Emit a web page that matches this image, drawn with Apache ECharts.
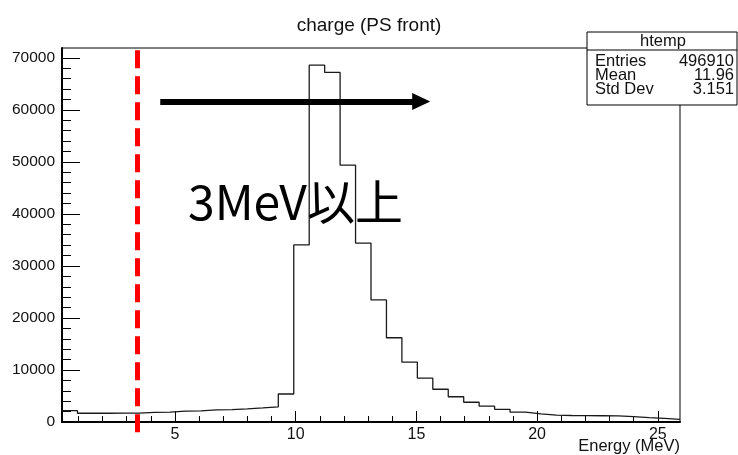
<!DOCTYPE html>
<html>
<head>
<meta charset="utf-8">
<script src="https://cdn.jsdelivr.net/npm/echarts@6/dist/echarts.min.js"></script>
<style>html,body{margin:0;padding:0;background:#fff}#c{width:738px;height:455px}</style>
</head>
<body>
<div id="c"></div>
<script>
// ---- data ----
const xMin = 0.32;
const xMax = 25.92;
const binCount = 40;
const counts = [2200, 1680, 1680, 1690, 1700, 1850, 1880, 2100, 2150, 2330,
                2380, 2520, 2700, 2900, 5380, 34040, 68600, 67200, 49400, 34400,
                23460, 16200, 11500, 8430, 6300, 4850, 3800, 3050, 2440, 1880,
                1560, 1320, 1250, 1220, 1200, 1160, 1020, 840, 680, 520];
const yMax = 71900;
const xMajorTicks = [5, 10, 15, 20, 25];
const xMinorTicks = [1, 2, 3, 4, 6, 7, 8, 9, 11, 12, 13, 14, 16, 17, 18, 19, 21, 22, 23, 24];
const yMajorTicks = [0, 10000, 20000, 30000, 40000, 50000, 60000, 70000];
const yMinorTicks = [2000, 4000, 6000, 8000, 12000, 14000, 16000, 18000, 22000, 24000, 26000, 28000,
                     32000, 34000, 36000, 38000, 42000, 44000, 46000, 48000, 52000, 54000, 56000, 58000,
                     62000, 64000, 66000, 68000];
const cutEnergy = 3.43;
const cutTop = 71480, cutBottom = -2800;
const arrowFrom = 4.39, arrowTo = 15.2, arrowLevel = 61600;
const titleText = 'charge (PS front)';
const xTitle = 'Energy (MeV)';
const annotation = '3MeV以上';
const statsName = 'htemp';
const statsRows = [['Entries', '496910'], ['Mean', '11.96'], ['Std Dev', '3.151']];

// ---- build ----
const binWidth = (xMax - xMin) / binCount;
const histData = counts.map((v, i) => [xMin + i * binWidth, v]);
histData.push([xMax, counts[counts.length - 1]]);

const F = 'Liberation Sans, Arial, Helvetica, sans-serif';
const chart = echarts.init(document.getElementById('c'), null, {renderer: 'canvas'});

// overlay grid: same horizontal and vertical scale as the frame, but extending below it
const gTop = 48, gBottom = 33, H = 455;
const plotH = H - gTop - gBottom;
const perPx = yMax / plotH;
const overlayBottom = 14;
const overlayMin = yMax - (H - gTop - overlayBottom) * perPx;

const statsLeft = 587, statsTop = 32, statsRight = 737, rowH = 14;
const SF = '16.5px ' + F;
const statsGraphics = [
  {type: 'rect', shape: {x: statsLeft, y: statsTop, width: statsRight - statsLeft, height: 73},
   style: {fill: '#fff', stroke: '#000', lineWidth: 1}, z: 100},
  {type: 'line', shape: {x1: statsLeft, y1: 50, x2: statsRight, y2: 50},
   style: {stroke: '#000', lineWidth: 1}, z: 101},
  {type: 'text', x: 663, y: 41, z: 101,
   style: {text: statsName, font: SF, fill: '#111', textAlign: 'center', textVerticalAlign: 'middle'}}
];
statsRows.forEach((r, i) => {
  statsGraphics.push({type: 'text', x: 595, y: 61 + i * rowH, z: 101,
    style: {text: r[0], font: SF, fill: '#111', textAlign: 'left', textVerticalAlign: 'middle'}});
  statsGraphics.push({type: 'text', x: 734, y: 61 + i * rowH, z: 101,
    style: {text: r[1], font: SF, fill: '#111', textAlign: 'right', textVerticalAlign: 'middle'}});
});

const option = {
  animation: false,
  backgroundColor: '#fff',
  title: {
    text: titleText, left: 'center', top: 11,
    textStyle: {fontFamily: F, fontSize: 19, fontWeight: 'normal', color: '#111'}
  },
  grid: [
    {left: 62, top: gTop, right: 58, bottom: gBottom, show: true, borderColor: '#000', borderWidth: 1},
    {left: 62, top: gTop, right: 58, bottom: overlayBottom, show: false}
  ],
  xAxis: [
    {type: 'value', min: xMin, max: xMax, position: 'bottom', gridIndex: 0,
     axisLine: {show: true, lineStyle: {color: '#000', width: 2}},
     axisTick: {show: true, inside: true, length: 11, customValues: xMajorTicks, lineStyle: {color: '#000'}},
     axisLabel: {show: true, customValues: xMajorTicks, margin: 5, fontFamily: F, fontSize: 16, color: '#111'},
     splitLine: {show: false}},
    {type: 'value', min: xMin, max: xMax, position: 'bottom', gridIndex: 0,
     axisLine: {show: false},
     axisTick: {show: true, inside: true, length: 6, customValues: xMinorTicks, lineStyle: {color: '#000'}},
     axisLabel: {show: false}, splitLine: {show: false}},
    {type: 'value', min: xMin, max: xMax, gridIndex: 1, show: false}
  ],
  yAxis: [
    {type: 'value', min: 0, max: yMax, position: 'left', gridIndex: 0,
     axisLine: {show: true, lineStyle: {color: '#000', width: 2}},
     axisTick: {show: true, inside: true, length: 18, customValues: yMajorTicks, lineStyle: {color: '#000'}},
     axisLabel: {show: true, customValues: yMajorTicks, margin: 7, fontFamily: F, fontSize: 15.5, color: '#111',
                 formatter: v => String(v)},
     splitLine: {show: false}},
    {type: 'value', min: 0, max: yMax, position: 'left', gridIndex: 0,
     axisLine: {show: false},
     axisTick: {show: true, inside: true, length: 9, customValues: yMinorTicks, lineStyle: {color: '#000'}},
     axisLabel: {show: false}, splitLine: {show: false}},
    {type: 'value', min: overlayMin, max: yMax, gridIndex: 1, show: false}
  ],
  series: [{
    type: 'line', step: 'end', data: histData, showSymbol: false, symbol: 'none',
    xAxisIndex: 0, yAxisIndex: 0,
    lineStyle: {color: '#1a1a1a', width: 1.3}, z: 3,
    markLine: {
      silent: true, animation: false, label: {show: false}, emphasis: {disabled: true},
      data: [
        [{coord: [arrowFrom, arrowLevel], symbol: 'none', lineStyle: {color: '#000', width: 6, type: 'solid'}},
         {coord: [arrowTo, arrowLevel], symbol: 'triangle', symbolSize: [17, 18]}]
      ]
    }
  }, {
    type: 'line', data: [[cutEnergy, cutTop]], showSymbol: false, symbol: 'none',
    lineStyle: {opacity: 0}, xAxisIndex: 2, yAxisIndex: 2, z: 10, clip: false,
    markLine: {
      silent: true, animation: false, label: {show: false}, emphasis: {disabled: true}, symbol: 'none',
      data: [
        [{coord: [cutEnergy, cutTop], lineStyle: {color: '#ff0000', width: 5, type: [18, 8]}},
         {coord: [cutEnergy, cutBottom]}]
      ]
    }
  }],
  graphic: [
    {type: 'text', x: 188, y: 202, z: 50,
     style: {text: annotation, font: '48px "Noto Sans CJK JP", sans-serif', fill: '#000', textAlign: 'left', textVerticalAlign: 'middle'}},
    {type: 'text', x: 680, y: 446, z: 50,
     style: {text: xTitle, font: '16.5px ' + F, fill: '#111', textAlign: 'right', textVerticalAlign: 'middle'}}
  ].concat(statsGraphics)
};
chart.setOption(option);
</script>
</body>
</html>
